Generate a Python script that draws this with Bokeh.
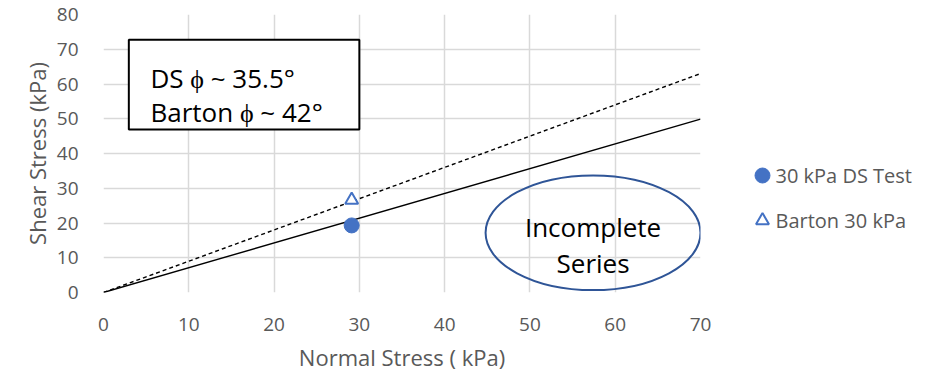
from bokeh.plotting import figure
from bokeh.models import Range1d, Label, FixedTicker, BoxAnnotation
from bokeh.layouts import row
from bokeh.core.properties import value
from bokeh.embed import file_html
from bokeh.resources import INLINE

# data
line_x = [0, 70]
ds_line_y = [0, 49.9]       # phi ~ 35.5 deg
barton_line_y = [0, 63.0]   # phi ~ 42 deg
ds_x = [29.1]
ds_y = [19.3]
barton_x = [29.1]
barton_y = [26.6]
x_ticks = [0, 10, 20, 30, 40, 50, 60, 70]
y_ticks = [0, 10, 20, 30, 40, 50, 60, 70, 80]
legend_labels = ["30 kPa DS Test", "Barton 30 kPa"]

FONT = "Open Sans"
GRAY = "#595959"
BLUE = "#4472C4"

p = figure(width=720, height=374, output_backend="svg", toolbar_location=None,
           x_range=Range1d(0, 70), y_range=Range1d(0, 80),
           min_border_left=103, min_border_top=14, min_border_right=20, min_border_bottom=82)
p.outline_line_color = None
p.background_fill_color = "white"

for ax in (p.xaxis[0], p.yaxis[0]):
    ax.axis_line_color = None
    ax.major_tick_line_color = None
    ax.minor_tick_line_color = None
    ax.major_label_text_font = FONT
    ax.major_label_text_font_size = "19px"
    ax.major_label_text_color = GRAY
    ax.axis_label_text_font = FONT
    ax.axis_label_text_font_size = "22px"
    ax.axis_label_text_color = GRAY
    ax.axis_label_text_font_style = "normal"

p.xaxis.ticker = FixedTicker(ticks=x_ticks)
p.yaxis.ticker = FixedTicker(ticks=y_ticks)
p.xaxis.axis_label = "Normal Stress ( kPa)"
p.yaxis.axis_label = "Shear Stress (kPa)"
p.xaxis.major_label_standoff = 19
p.yaxis.major_label_standoff = 19
p.xaxis.axis_label_standoff = 8
p.yaxis.axis_label_standoff = 2

p.xgrid.ticker = FixedTicker(ticks=x_ticks)
p.ygrid.ticker = FixedTicker(ticks=y_ticks)
p.grid.grid_line_color = "#d9d9d9"
p.grid.grid_line_width = 1.5

p.line(line_x, ds_line_y, line_color="black", line_width=1.4)
p.line(line_x, barton_line_y, line_color="black", line_width=1.4, line_dash="4 3")

p.scatter(ds_x, ds_y, marker="circle", size=15, fill_color=BLUE, line_color=BLUE)
p.scatter(barton_x, barton_y, marker="triangle", size=13, fill_color="white",
          line_color=BLUE, line_width=2)

# ellipse annotation
p.ellipse(x=[57.4], y=[17.2], width=25.2, height=33, fill_color=None,
          line_color="#2F5597", line_width=2)
p.add_layout(Label(x=57.4, y=18.8, text="Incomplete", text_align="center", text_baseline="alphabetic",
                   text_font=FONT, text_font_size="26px", text_color="black"))
p.add_layout(Label(x=57.4, y=8.4, text="Series", text_align="center", text_baseline="alphabetic",
                   text_font=FONT, text_font_size="26px", text_color="black"))

# text box
p.add_layout(BoxAnnotation(left=2.97, right=30.0, bottom=46.9, top=72.7,
                           fill_color="white", fill_alpha=1, line_color="black",
                           line_alpha=1, line_width=2))
p.add_layout(Label(x=5.5, y=61.7, text="DS \u03d5 ~ 35.5\u00b0", text_baseline="alphabetic",
                   text_font=FONT, text_font_size="26px", text_color="black"))
p.add_layout(Label(x=5.5, y=51.8, text="Barton \u03d5 ~ 42\u00b0", text_baseline="alphabetic",
                   text_font=FONT, text_font_size="26px", text_color="black"))

# legend panel (separate figure; its frame is aligned with the main frame, y in page pixels)
q = figure(width=215, height=374, output_backend="svg", toolbar_location=None,
           x_range=Range1d(0, 215), y_range=Range1d(292, 14),
           x_axis_location=None, y_axis_location=None,
           min_border_left=0, min_border_right=0, min_border_top=14, min_border_bottom=82)
q.outline_line_color = None
q.grid.visible = False
leg_x = [42, 42]
leg_y = [175, 220]
q.scatter(leg_x[:1], leg_y[:1], marker="circle", size=15, fill_color=BLUE, line_color=BLUE)
q.scatter(leg_x[1:], leg_y[1:], marker="triangle", size=13, fill_color="white",
          line_color=BLUE, line_width=2)
q.text([x + 13 for x in leg_x], leg_y, text=legend_labels, text_baseline="middle",
       text_font=value(FONT), text_font_size="20px", text_color=GRAY)

layout = row(p, q)
open("out.html", "w").write(file_html(layout, INLINE))
